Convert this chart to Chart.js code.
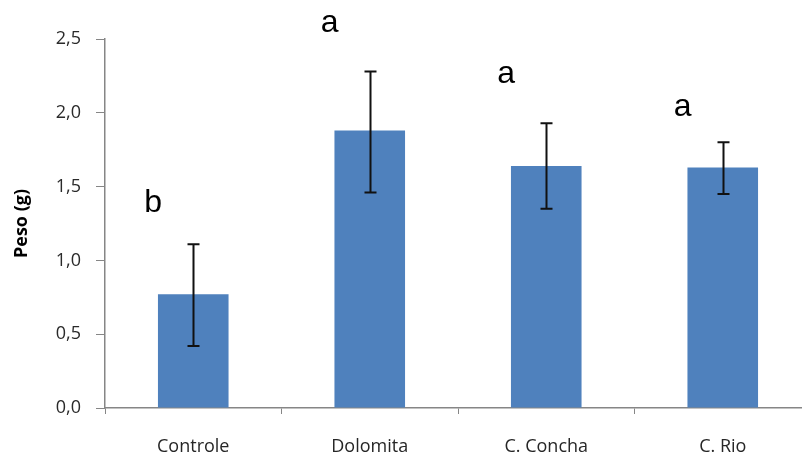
<!DOCTYPE html>
<html>
<head>
<meta charset="utf-8">
<script src="https://cdn.jsdelivr.net/npm/chart.js@4/dist/chart.umd.min.js"></script>
<style>
  body { margin: 0; overflow: hidden; background: #fff; }
</style>
</head>
<body>
<canvas id="myChart" width="815" height="459"></canvas>
<script>
var categories = ["Controle", "Dolomita", "C. Concha", "C. Rio"];
var peso = [0.77, 1.88, 1.64, 1.63];
var errLow = [0.42, 1.46, 1.35, 1.45];
var errHigh = [1.11, 2.28, 1.93, 1.80];
var letters = ["b", "a", "a", "a"];
var letterY = [1.39, 2.61, 2.26, 2.04];

var gray = "#868686";

var extras = {
    id: "extras",
    afterDatasetsDraw: function (chart) {
        var ctx = chart.ctx;
        var meta = chart.getDatasetMeta(0);
        var y = chart.scales.y;
        ctx.save();
        ctx.strokeStyle = "#111";
        ctx.lineWidth = 2;
        meta.data.forEach(function (bar, i) {
            var x = Math.round(bar.x) + 0.5;
            var top = y.getPixelForValue(errHigh[i]);
            var bot = y.getPixelForValue(errLow[i]);
            ctx.beginPath();
            ctx.moveTo(x, top);
            ctx.lineTo(x, bot);
            ctx.moveTo(x - 6, top);
            ctx.lineTo(x + 6, top);
            ctx.moveTo(x - 6, bot);
            ctx.lineTo(x + 6, bot);
            ctx.stroke();
        });
        ctx.fillStyle = "#000";
        ctx.font = "32px 'Liberation Sans', Arial, sans-serif";
        ctx.textAlign = "center";
        ctx.textBaseline = "middle";
        meta.data.forEach(function (bar, i) {
            ctx.fillText(letters[i], bar.x - 40, y.getPixelForValue(letterY[i]));
        });
        ctx.restore();
    }
};

var ctx = document.getElementById("myChart").getContext("2d");
var barChart = new Chart(ctx, {
    type: "bar",
    data: {
        labels: categories,
        datasets: [
            {
                data: peso,
                backgroundColor: "#4F81BD",
                categoryPercentage: 1.0,
                barPercentage: 0.4
            }
        ]
    },
    options: {
        responsive: false,
        animation: false,
        layout: { padding: { top: 39, right: 4, left: 0, bottom: 0 } },
        plugins: {
            legend: { display: false },
            tooltip: { enabled: false }
        },
        scales: {
            x: {
                afterFit: function (scale) { scale.height = 51; },
                grid: {
                    offset: true,
                    drawOnChartArea: false,
                    color: gray,
                    tickLength: 6
                },
                border: { color: gray, width: 1.5 },
                ticks: {
                    color: "#262626",
                    padding: 22,
                    font: { family: "'Open Sans', sans-serif", size: 18 }
                }
            },
            y: {
                min: 0,
                max: 2.5,
                afterFit: function (scale) { scale.width = 105; },
                grid: {
                    drawOnChartArea: false,
                    color: gray,
                    tickLength: 9
                },
                border: { color: gray, width: 1.5 },
                ticks: {
                    stepSize: 0.5,
                    color: "#2a2a2a",
                    padding: 15,
                    font: { family: "'Open Sans', sans-serif", size: 18 },
                    callback: function (v) { return v.toFixed(1).replace(".", ","); }
                },
                title: {
                    display: true,
                    text: "Peso (g)",
                    color: "#000",
                    padding: { top: 11, bottom: 0 },
                    font: { family: "'Open Sans', sans-serif", size: 18, weight: "bold" }
                }
            }
        }
    },
    plugins: [extras]
});
</script>
</body>
</html>
